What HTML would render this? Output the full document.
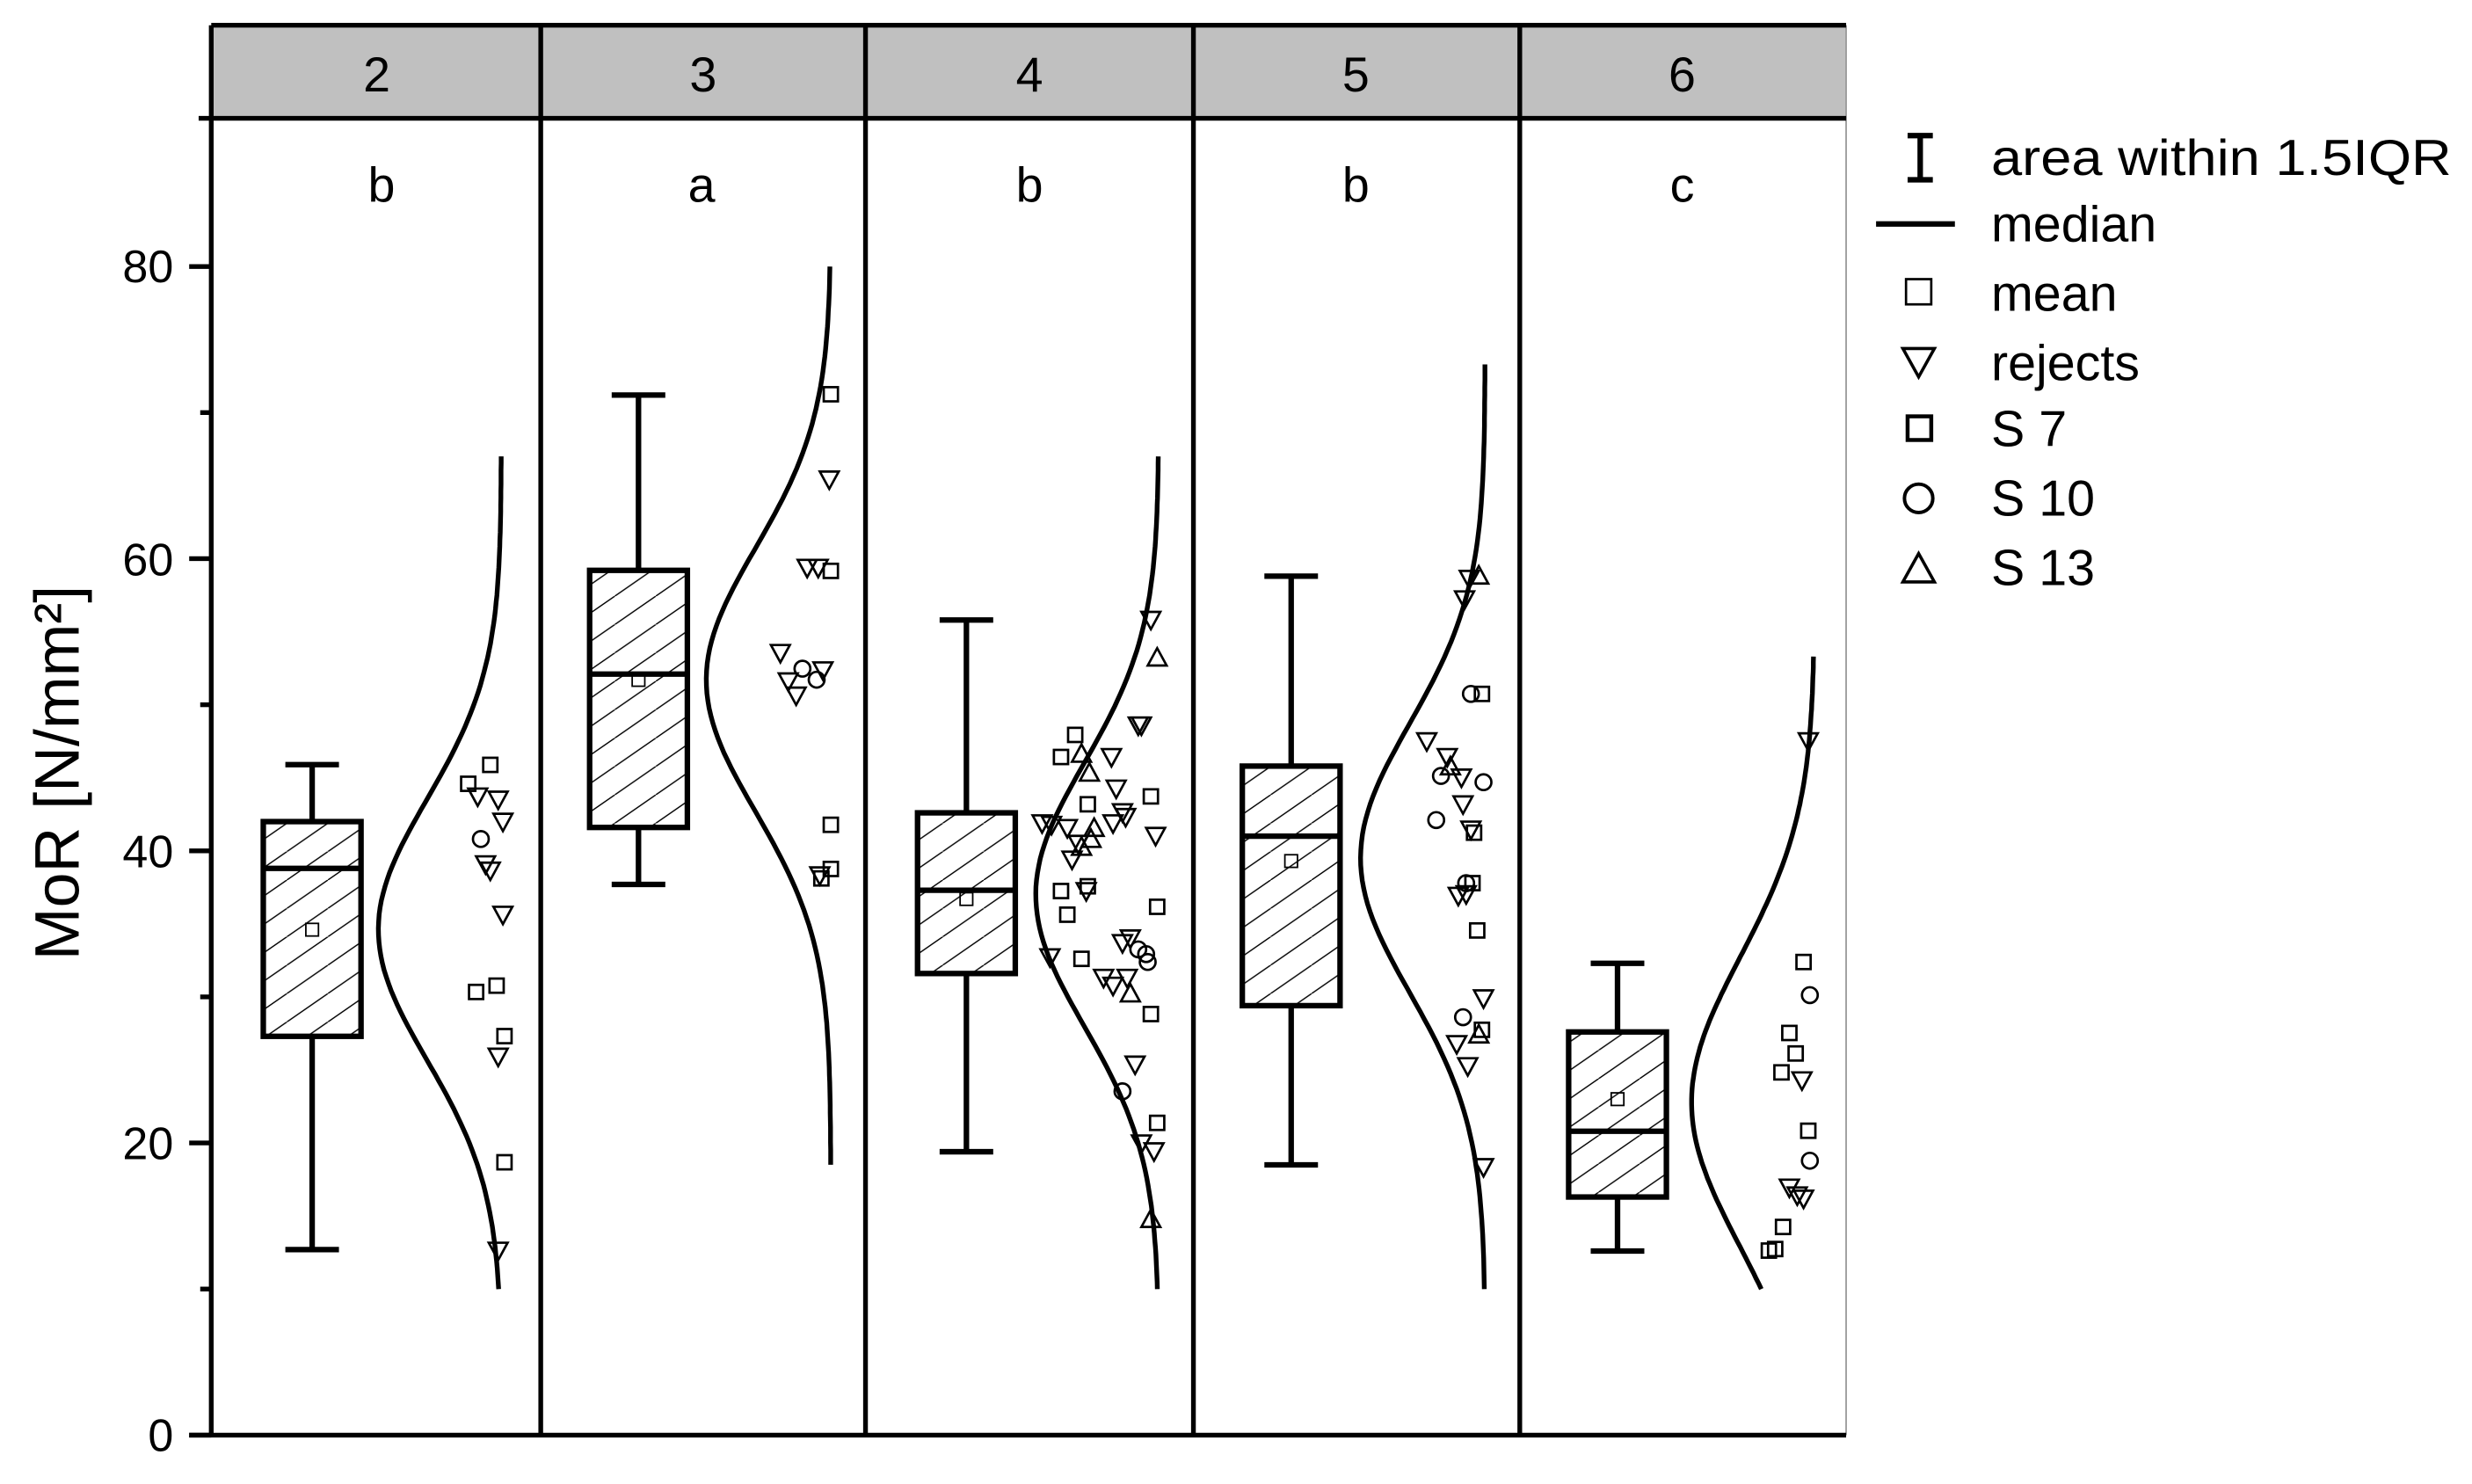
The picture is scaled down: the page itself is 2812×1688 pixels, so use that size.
<!DOCTYPE html>
<html><head><meta charset="utf-8"><style>
html,body{margin:0;padding:0;background:#fff;}
svg{display:block;}
text{font-family:"Liberation Sans",Arial,sans-serif;}
</style></head><body>
<svg id="s" width="2812" height="1688" viewBox="0 0 1568 941" preserveAspectRatio="none" xmlns="http://www.w3.org/2000/svg">
<defs>
<pattern id="h" patternUnits="userSpaceOnUse" width="26" height="18">
<path d="M-26,18 L0,0 M0,18 L26,0 M26,18 L52,0" stroke="#000" stroke-width="0.8"/>
</pattern>
</defs>
<rect x="134" y="16" width="1037" height="59" fill="#c0c0c0"/>
<line x1="1171" y1="16" x2="1171" y2="910" stroke="#999" stroke-width="1"/>
<line x1="134" y1="16" x2="1171" y2="16" stroke="#000" stroke-width="3"/>
<line x1="126" y1="75" x2="1171" y2="75" stroke="#000" stroke-width="3"/>
<g stroke="#000" stroke-width="3">
<line x1="134" y1="16" x2="134" y2="911"/>
<line x1="343" y1="16" x2="343" y2="910"/>
<line x1="549" y1="16" x2="549" y2="910"/>
<line x1="757" y1="16" x2="757" y2="910"/>
<line x1="964" y1="16" x2="964" y2="910"/>
<line x1="120" y1="910" x2="1171" y2="910"/>
</g>
<g font-size="31" text-anchor="middle">
<text x="239" y="58">2</text><text x="446" y="58">3</text><text x="653" y="58">4</text><text x="860" y="58">5</text><text x="1067" y="58">6</text>
<text x="242" y="128">b</text><text x="445" y="128">a</text><text x="653" y="128">b</text><text x="860" y="128">b</text><text x="1067" y="128">c</text>
</g>
<g font-size="29" text-anchor="end">
<text x="110" y="179">80</text><text x="110" y="365">60</text><text x="110" y="550">40</text><text x="110" y="735">20</text><text x="110" y="920">0</text>
</g>
<text transform="translate(50,490) rotate(-90)" font-size="40" text-anchor="middle">MoR [N/mm²]</text>
<g id="ticks" stroke="#000" stroke-width="3"></g>
<g id="plots"></g>
<g font-size="32">
<text x="1263" y="111" textLength="292" lengthAdjust="spacingAndGlyphs">area within 1.5IQR</text>
<text x="1263" y="153">median</text>
<text x="1263" y="197">mean</text>
<text x="1263" y="241">rejects</text>
<text x="1263" y="283">S 7</text>
<text x="1263" y="327">S 10</text>
<text x="1263" y="371">S 13</text>
</g>
<g stroke="#000" fill="none">
<line x1="1218" y1="86" x2="1218" y2="114" stroke-width="3.5"/>
<line x1="1210" y1="86" x2="1226" y2="86" stroke-width="3.5"/>
<line x1="1210" y1="114" x2="1226" y2="114" stroke-width="3.5"/>
<line x1="1190" y1="142" x2="1240" y2="142" stroke-width="3.5"/>
<rect x="1209" y="177" width="16" height="16" stroke-width="1.5"/>
<path d="M1207,221 L1227,221 L1217,239 Z" stroke-width="2"/>
<rect x="1210" y="264" width="15" height="15" stroke-width="2.5"/>
<circle cx="1217" cy="316" r="9" stroke-width="2.2"/>
<path d="M1207,369 L1227,369 L1217,351 Z" stroke-width="2"/>
</g>
</svg>
<script>
var NS="http://www.w3.org/2000/svg";
function Y(v){return 910-9.2625*v;}
function el(p,t,a){var e=document.createElementNS(NS,t);for(var k in a)e.setAttribute(k,a[k]);p.appendChild(e);return e;}
var tk=document.getElementById('ticks');
for(var v=0;v<=80;v+=10){var y=Y(v);el(tk,'line',{x1:v%20==0?120:127,y1:y,x2:134,y2:y});}
var g=document.getElementById('plots');
var P=[
 {c:198,q1:27.3,q3:42,md:38.8,mn:34.6,lo:12.7,hi:45.9,base:318,mu:34.6,s:8.9,a:78,v0:10,v1:67},
 {c:405,q1:41.6,q3:59.2,md:52.1,mn:51.7,lo:37.7,hi:71.2,base:527,mu:51.7,s:9,a:79,v0:18.5,v1:80},
 {c:613,q1:31.6,q3:42.6,md:37.3,mn:36.7,lo:19.4,hi:55.8,base:735,mu:37,s:9,a:78,v0:10,v1:67},
 {c:819,q1:29.4,q3:45.8,md:41,mn:39.3,lo:18.5,hi:58.8,base:942,mu:39.5,s:9.2,a:79,v0:10,v1:73.3},
 {c:1026,q1:16.3,q3:27.6,md:20.8,mn:23,lo:12.6,hi:32.3,base:1151,mu:22.8,s:9.9,a:78,v0:10,v1:53.3}
];
P.forEach(function(p){
 var x0=p.c-31,w=62;
 el(g,'line',{x1:p.c,y1:Y(p.hi),x2:p.c,y2:Y(p.q3),stroke:'#000','stroke-width':3.5});
 el(g,'line',{x1:p.c,y1:Y(p.q1),x2:p.c,y2:Y(p.lo),stroke:'#000','stroke-width':3.5});
 el(g,'line',{x1:p.c-17,y1:Y(p.hi),x2:p.c+17,y2:Y(p.hi),stroke:'#000','stroke-width':3.5});
 el(g,'line',{x1:p.c-17,y1:Y(p.lo),x2:p.c+17,y2:Y(p.lo),stroke:'#000','stroke-width':3.5});
 el(g,'rect',{x:x0,y:Y(p.q3),width:w,height:Y(p.q1)-Y(p.q3),fill:'url(#h)',stroke:'#000','stroke-width':3.5});
 el(g,'line',{x1:x0,y1:Y(p.md),x2:x0+w,y2:Y(p.md),stroke:'#000','stroke-width':3.5});
 el(g,'rect',{x:p.c-4,y:Y(p.mn)-4,width:8,height:8,fill:'none',stroke:'#000','stroke-width':1});
 var d='';for(var i=0;i<=120;i++){var v=p.v0+(p.v1-p.v0)*i/120;var x=p.base-p.a*Math.exp(-(v-p.mu)*(v-p.mu)/(2*p.s*p.s));d+=(i?'L':'M')+x.toFixed(1)+','+Y(v).toFixed(1);}
 el(g,'path',{d:d,fill:'none',stroke:'#000','stroke-width':3});
});
function sq(x,y){el(g,'rect',{x:x-4.5,y:y-4.5,width:9,height:9,fill:'none',stroke:'#000','stroke-width':1.5});}
function ci(x,y){el(g,'circle',{cx:x,cy:y,r:5,fill:'none',stroke:'#000','stroke-width':1.5});}
function td(x,y){el(g,'path',{d:'M'+(x-6)+','+(y-5)+' L'+(x+6)+','+(y-5)+' L'+x+','+(y+6)+'Z',fill:'none',stroke:'#000','stroke-width':1.5});}
function tu(x,y){el(g,'path',{d:'M'+(x-6)+','+(y+5)+' L'+(x+6)+','+(y+5)+' L'+x+','+(y-6)+'Z',fill:'none',stroke:'#000','stroke-width':1.5});}
[[297,497],[311,485],[302,629],[315,625],[320,657],[320,737],
 [527,250],[527,362],[527,523],[527,551],[521,557],
 [682,466],[673,480],[690,510],[673,565],[677,580],[686,608],[690,562],[730,505],[734,575],[730,643],[734,712],
 [940,440],[935,528],[937,590],[940,653],[934,560],
 [1144,610],[1135,655],[1139,668],[1130,680],[1147,717],[1131,778],[1122,793],[1126,792]].forEach(function(a){sq(a[0],a[1]);});
[[303,505],[316,507],[319,521],[308,548],[311,552],[319,580],[316,670],[316,793],
 [526,304],[512,360],[519,360],[495,414],[500,432],[505,441],[522,425],[520,555],
 [661,522],[667,523],[705,480],[708,500],[712,515],[706,522],[714,518],[722,460],[724,460],[733,530],[680,545],[689,565],[717,595],[712,598],[700,620],[706,625],[715,620],[720,675],[724,725],[732,730],[730,393],[666,607],[684,535],[677,525],
 [905,470],[918,480],[927,493],[928,510],[933,526],[929,380],[932,367],[925,568],[930,567],[941,633],[924,662],[931,676],[941,740],
 [1147,470],[1143,685],[1135,753],[1140,758],[1144,760]].forEach(function(a){td(a[0],a[1]);});
[[305,532],[509,424],[518,431],[712,692],[727,605],[728,610],[722,602],[914,492],[911,520],[933,440],[941,496],[928,645],[930,560],[1148,631],[1148,736]].forEach(function(a){ci(a[0],a[1]);});
[[686,478],[691,490],[694,525],[692,532],[686,537],[734,417],[717,630],[730,773],[920,486],[938,365],[938,656]].forEach(function(a){tu(a[0],a[1]);});
</script>
</body></html>
